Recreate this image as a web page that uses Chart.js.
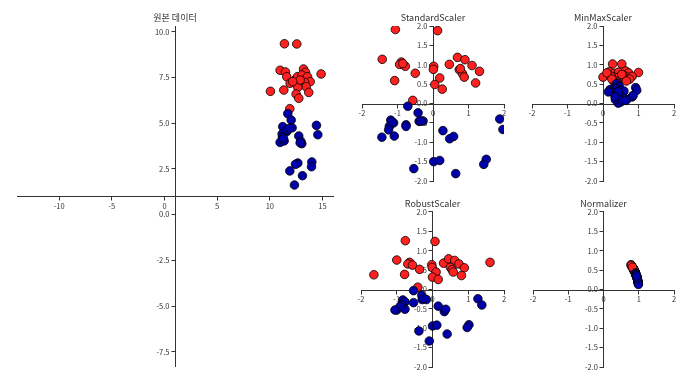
<!DOCTYPE html>
<html><head><meta charset="utf-8">
<script src="https://cdn.jsdelivr.net/npm/chart.js@4.4.0/dist/chart.umd.min.js"></script>
<style>
html,body{margin:0;padding:0;background:#fff;width:695px;height:389px;overflow:hidden;position:relative}
canvas{position:absolute}
</style></head><body>
<canvas id="c0"></canvas><canvas id="c1"></canvas><canvas id="c2"></canvas><canvas id="c3"></canvas><canvas id="c4"></canvas>
<script>
// ---- titles & tick labels ----
const titles = ['원본 데이터', 'StandardScaler', 'MinMaxScaler', 'RobustScaler', 'Normalizer'];
const mainXTicks = [-10, -5, 0, 5, 10, 15];
const mainYTicks = [-7.5, -5, -2.5, 0, 2.5, 5, 7.5, 10];
const smallXTicks = [-2, -1, 0, 1, 2];
const smallYTicks = [-2, -1.5, -1, -0.5, 0, 0.5, 1, 1.5, 2];

// ---- data (class 0 = blue, class 1 = red) ----
const originalRed = [[11.39,9.34],[12.56,9.33],[10.98,7.89],[11.49,7.80],[11.61,7.54],[11.93,7.18],[12.47,7.40],[12.63,7.54],[13.20,7.96],[13.39,7.78],[13.04,7.63],[13.58,7.54],[13.83,7.27],[13.32,7.23],[13.45,6.99],[12.66,6.96],[12.50,6.59],[12.75,6.36],[13.70,6.68],[14.87,7.69],[11.33,6.81],[10.06,6.74],[11.90,5.79],[12.88,7.36],[12.18,7.27]];
const originalBlue = [[11.71,5.52],[12.03,5.17],[11.23,4.81],[12.12,4.75],[11.61,4.54],[11.17,4.41],[11.20,4.23],[10.98,3.95],[11.36,4.03],[12.75,4.30],[12.94,4.01],[13.04,3.88],[14.43,4.88],[14.56,4.37],[12.66,2.82],[12.44,2.75],[13.99,2.88],[13.96,2.62],[11.90,2.39],[13.10,2.13],[12.34,1.62],[11.68,4.63],[11.87,4.72],[12.88,3.93],[11.30,4.17]];
const standardRed = [[-1.06,1.91],[0.13,1.88],[-1.43,1.14],[-0.89,1.07],[-0.94,1.01],[-0.78,0.96],[0.02,0.96],[0.01,0.88],[0.46,1.01],[0.69,1.19],[0.90,1.13],[1.10,0.98],[1.31,0.83],[0.74,0.87],[0.83,0.77],[0.88,0.68],[1.20,0.53],[-0.50,0.78],[0.19,0.66],[0.05,0.49],[0.26,0.37],[-1.08,0.59],[-0.57,0.08],[0.77,0.90],[-0.85,1.03]];
const standardBlue = [[-0.71,-0.07],[-0.42,-0.24],[-1.19,-0.43],[-1.11,-0.50],[-1.23,-0.59],[-1.25,-0.68],[-0.76,-0.55],[-0.76,-0.59],[-0.39,-0.46],[-0.28,-0.45],[-1.44,-0.87],[-1.09,-0.84],[0.28,-0.70],[0.47,-0.91],[0.58,-0.85],[1.88,-0.40],[1.97,-0.67],[0.02,-1.50],[0.19,-1.47],[-0.54,-1.68],[0.64,-1.81],[1.50,-1.44],[1.43,-1.57],[-0.34,-0.45],[-1.15,-0.48]];
const minmaxRed = [[0.00,0.68],[0.27,1.02],[0.53,1.02],[0.18,0.82],[0.31,0.78],[0.44,0.81],[0.64,0.84],[0.72,0.79],[1.00,0.80],[0.31,0.68],[0.44,0.68],[0.58,0.73],[0.69,0.68],[0.82,0.70],[0.23,0.70],[0.49,0.62],[0.37,0.57],[0.62,0.64],[0.75,0.63],[0.31,0.56],[0.53,0.75],[0.11,0.79],[0.66,0.58],[0.41,0.51],[0.25,0.63]];
const minmaxBlue = [[0.38,0.51],[0.46,0.44],[0.33,0.41],[0.20,0.36],[0.24,0.32],[0.39,0.38],[0.47,0.34],[0.59,0.32],[0.92,0.41],[0.95,0.34],[0.41,0.15],[0.47,0.11],[0.68,0.11],[0.82,0.17],[0.50,0.04],[0.43,0.01],[0.35,0.10],[0.30,0.27],[0.15,0.30],[0.45,0.21],[0.54,0.08],[0.64,0.08],[0.85,0.21],[0.43,0.30],[0.34,0.17]];
const robustRed = [[-0.76,1.26],[0.07,1.24],[-1.00,0.76],[-0.64,0.70],[-0.69,0.66],[-0.56,0.63],[-0.02,0.64],[-0.01,0.57],[0.31,0.68],[0.45,0.79],[0.62,0.75],[0.74,0.66],[0.89,0.56],[0.50,0.57],[0.55,0.51],[0.58,0.45],[0.81,0.36],[1.61,0.70],[-0.36,0.52],[0.10,0.45],[0.00,0.32],[0.16,0.26],[-0.78,0.39],[-1.64,0.38],[-0.41,0.06]];
const robustBlue = [[-0.53,-0.03],[-0.30,-0.15],[-0.83,-0.27],[-0.77,-0.32],[-0.86,-0.40],[-1.00,-0.53],[-0.77,-0.51],[-0.53,-0.34],[-0.29,-0.26],[-0.17,-0.26],[0.16,-0.43],[0.33,-0.57],[0.37,-0.51],[1.27,-0.24],[1.38,-0.40],[0.00,-0.94],[0.12,-0.92],[-0.38,-1.07],[0.41,-1.15],[-0.09,-1.33],[1.02,-0.91],[0.97,-0.98],[-0.91,-0.44],[-0.25,-0.23],[-1.05,-0.53]];
const normalizerRed = [[0.78,0.64],[0.80,0.60],[0.81,0.59],[0.83,0.56],[0.84,0.55],[0.86,0.52],[0.86,0.51],[0.855,0.52],[0.865,0.50],[0.86,0.505],[0.87,0.485],[0.885,0.465],[0.88,0.48],[0.89,0.46],[0.875,0.48],[0.885,0.47],[0.895,0.445],[0.90,0.44],[0.89,0.46],[0.855,0.515],[0.83,0.555],[0.90,0.44],[0.87,0.50],[0.79,0.62],[0.82,0.575]];
const normalizerBlue = [[0.905,0.425],[0.92,0.395],[0.92,0.39],[0.93,0.365],[0.93,0.36],[0.93,0.37],[0.935,0.355],[0.94,0.34],[0.945,0.335],[0.95,0.32],[0.955,0.295],[0.96,0.285],[0.947,0.32],[0.958,0.29],[0.975,0.22],[0.976,0.215],[0.98,0.20],[0.983,0.185],[0.98,0.195],[0.987,0.16],[0.99,0.13],[0.925,0.375],[0.928,0.37],[0.955,0.29],[0.94,0.345]];

// ---- layout & style ----
const FONT = '"Noto Sans CJK KR", "Noto Sans", sans-serif';
const TICK_FS = 7.5, TITLE_FS = 9, TITLE_PB = 3.5;
const TITLE_H = TITLE_FS * 1.2 + TITLE_PB;
const PAD = 20;
const BLUE = '#0000aa', RED = '#ff2020';

const panels = [
  {id:'c0', title:titles[0], area:[17,26.2,333,366.5], xr:[-14,16], yr:[-8.3,10.3], xt:mainXTicks, yt:mainYTicks, blue:originalBlue, red:originalRed},
  {id:'c1', title:titles[1], area:[362,26,504,181], xr:[-2,2], yr:[-2,2], xt:smallXTicks, yt:smallYTicks, blue:standardBlue, red:standardRed},
  {id:'c2', title:titles[2], area:[532,26,674,181], xr:[-2,2], yr:[-2,2], xt:smallXTicks, yt:smallYTicks, blue:minmaxBlue, red:minmaxRed},
  {id:'c3', title:titles[3], area:[361,212,504,367], xr:[-2,2], yr:[-2,2], xt:smallXTicks, yt:smallYTicks, blue:robustBlue, red:robustRed},
  {id:'c4', title:titles[4], area:[533,212,674,367], xr:[-2,2], yr:[-2,2], xt:smallXTicks, yt:smallYTicks, blue:normalizerBlue, red:normalizerRed}
];

function axisOpts(range, tickVals, fmt) {
  return {
    type: 'linear', position: 'center', min: range[0], max: range[1],
    afterBuildTicks: s => { s.ticks = tickVals.map(v => ({value: v})); },
    grid: {display: true, drawOnChartArea: false, drawTicks: true, tickLength: 3.5, tickColor: '#333', tickWidth: 1},
    border: {display: true, color: '#333', width: 1},
    ticks: {color: '#333', font: {family: FONT, size: TICK_FS}, padding: 2, autoSkip: false, maxRotation: 0, minRotation: 0, callback: v => fmt(v)}
  };
}

panels.forEach(p => {
  const [L, T, R, B] = p.area;
  const cv = document.getElementById(p.id);
  const left = Math.floor(L - PAD), top = Math.floor(T - PAD - TITLE_H);
  const right = Math.ceil(R + PAD), bottom = Math.ceil(B + PAD);
  cv.width = right - left; cv.height = bottom - top;
  cv.style.left = left + 'px'; cv.style.top = top + 'px';
  cv.style.width = (right - left) + 'px'; cv.style.height = (bottom - top) + 'px';
  const toPts = arr => arr.map(d => ({x: d[0], y: d[1]}));
  new Chart(cv, {
    type: 'scatter',
    data: {datasets: [
      {data: toPts(p.blue), backgroundColor: BLUE, borderColor: '#000', borderWidth: 0.8, pointRadius: 4.3, clip: 0},
      {data: toPts(p.red), backgroundColor: RED, borderColor: '#000', borderWidth: 0.8, pointRadius: 4.3, clip: 0}
    ]},
    options: {
      responsive: false, animation: false, events: [],
      layout: {padding: {left: L - left, right: right - R, top: T - TITLE_H - top, bottom: bottom - B}},
      plugins: {
        legend: {display: false}, tooltip: {enabled: false},
        title: {display: true, text: p.title, color: '#333', font: {family: FONT, size: TITLE_FS, weight: 'normal'}, padding: {top: 0, bottom: TITLE_PB}}
      },
      scales: {
        x: axisOpts(p.xr, p.xt, v => String(v)),
        y: axisOpts(p.yr, p.yt, v => v.toFixed(1))
      }
    }
  });
});
</script>
</body></html>
